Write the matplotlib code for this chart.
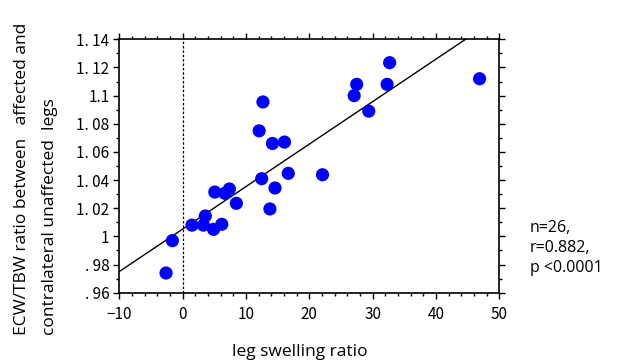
import numpy as np
import matplotlib.pyplot as plt
from matplotlib.ticker import MultipleLocator

plt.rcParams['font.family'] = ['Noto Sans CJK JP', 'DejaVu Sans']

# leg swelling ratio (x) vs ECW/TBW ratio (y)
swelling = [-2.6, -1.6, 1.5, 3.6, 3.3, 4.9, 6.2, 5.1, 6.7, 7.4, 8.5,
            12.1, 12.7, 12.5, 14.2, 16.1, 14.6, 13.8, 16.7,
            22.1, 27.1, 27.5, 29.4, 32.3, 32.7, 46.9]
ecw_tbw = [0.974, 0.997, 1.008, 1.0145, 1.008, 1.005, 1.0086, 1.0315, 1.0306, 1.0337, 1.0235,
           1.075, 1.0955, 1.041, 1.066, 1.067, 1.0344, 1.0195, 1.0448,
           1.0438, 1.100, 1.108, 1.089, 1.108, 1.1234, 1.112]

yticks = [0.96, 0.98, 1.00, 1.02, 1.04, 1.06, 1.08, 1.10, 1.12, 1.14]
ytick_labels = ['. 96', '. 98', '1', '1. 02', '1. 04', '1. 06', '1. 08', '1.1', '1. 12', '1. 14']
xticks = [-10, 0, 10, 20, 30, 40, 50]
stats_text = 'n=26,\nr=0.882,\np <0.0001'

x = np.array(swelling)
y = np.array(ecw_tbw)
slope, intercept = np.polyfit(x, y, 1)

fig = plt.figure(figsize=(6.22, 3.62), dpi=100)
ax = fig.add_axes([0.1916, 0.1914, 0.611, 0.70])

xs = np.array([-10, 50])
ax.plot(xs, intercept + slope * xs, color='black', lw=1.0, zorder=2)
ax.axvline(0, color='black', lw=0.9, ls=(0, (2, 1.5)), zorder=1)
ax.scatter(x, y, s=90, color='#0000ff', edgecolor='none', zorder=3)

ax.set_xlim(-10, 50)
ax.set_ylim(0.96, 1.14)
ax.set_xticks(xticks)
ax.set_xticklabels(['\u221210' if t == -10 else str(t) for t in xticks])
ax.set_yticks(yticks)
ax.set_yticklabels(ytick_labels)
ax.xaxis.set_minor_locator(MultipleLocator(2))
ax.yaxis.set_minor_locator(MultipleLocator(0.01))
ax.tick_params(which='both', direction='out', top=True, right=True,
               labelsize=11, width=1.0)
ax.tick_params(which='major', length=4.5)
ax.tick_params(which='minor', length=2.5)
ax.tick_params(axis='x', pad=5)
ax.tick_params(axis='y', pad=2.5)
for s in ax.spines.values():
    s.set_linewidth(1.2)

fig.text(300 / 622, 1 - 352 / 362, 'leg swelling ratio', ha='center', va='center',
         fontsize=12.5, family=['Open Sans', 'DejaVu Sans'])
fig.text(22 / 622, 1 - 335 / 362, 'ECW/TBW ratio between   affected and',
         rotation=90, ha='center', va='bottom', fontsize=12.5,
         family=['Open Sans', 'DejaVu Sans'])
fig.text(50 / 622, 1 - 335 / 362, 'contralateral unaffected  legs',
         rotation=90, ha='center', va='bottom', fontsize=12.5,
         family=['Open Sans', 'DejaVu Sans'])
fig.text(530 / 622, 1 - 248 / 362, stats_text, ha='left', va='center',
         fontsize=11.5, linespacing=1.3, family=['Open Sans', 'DejaVu Sans'])

fig.savefig('out.png', dpi=100)
